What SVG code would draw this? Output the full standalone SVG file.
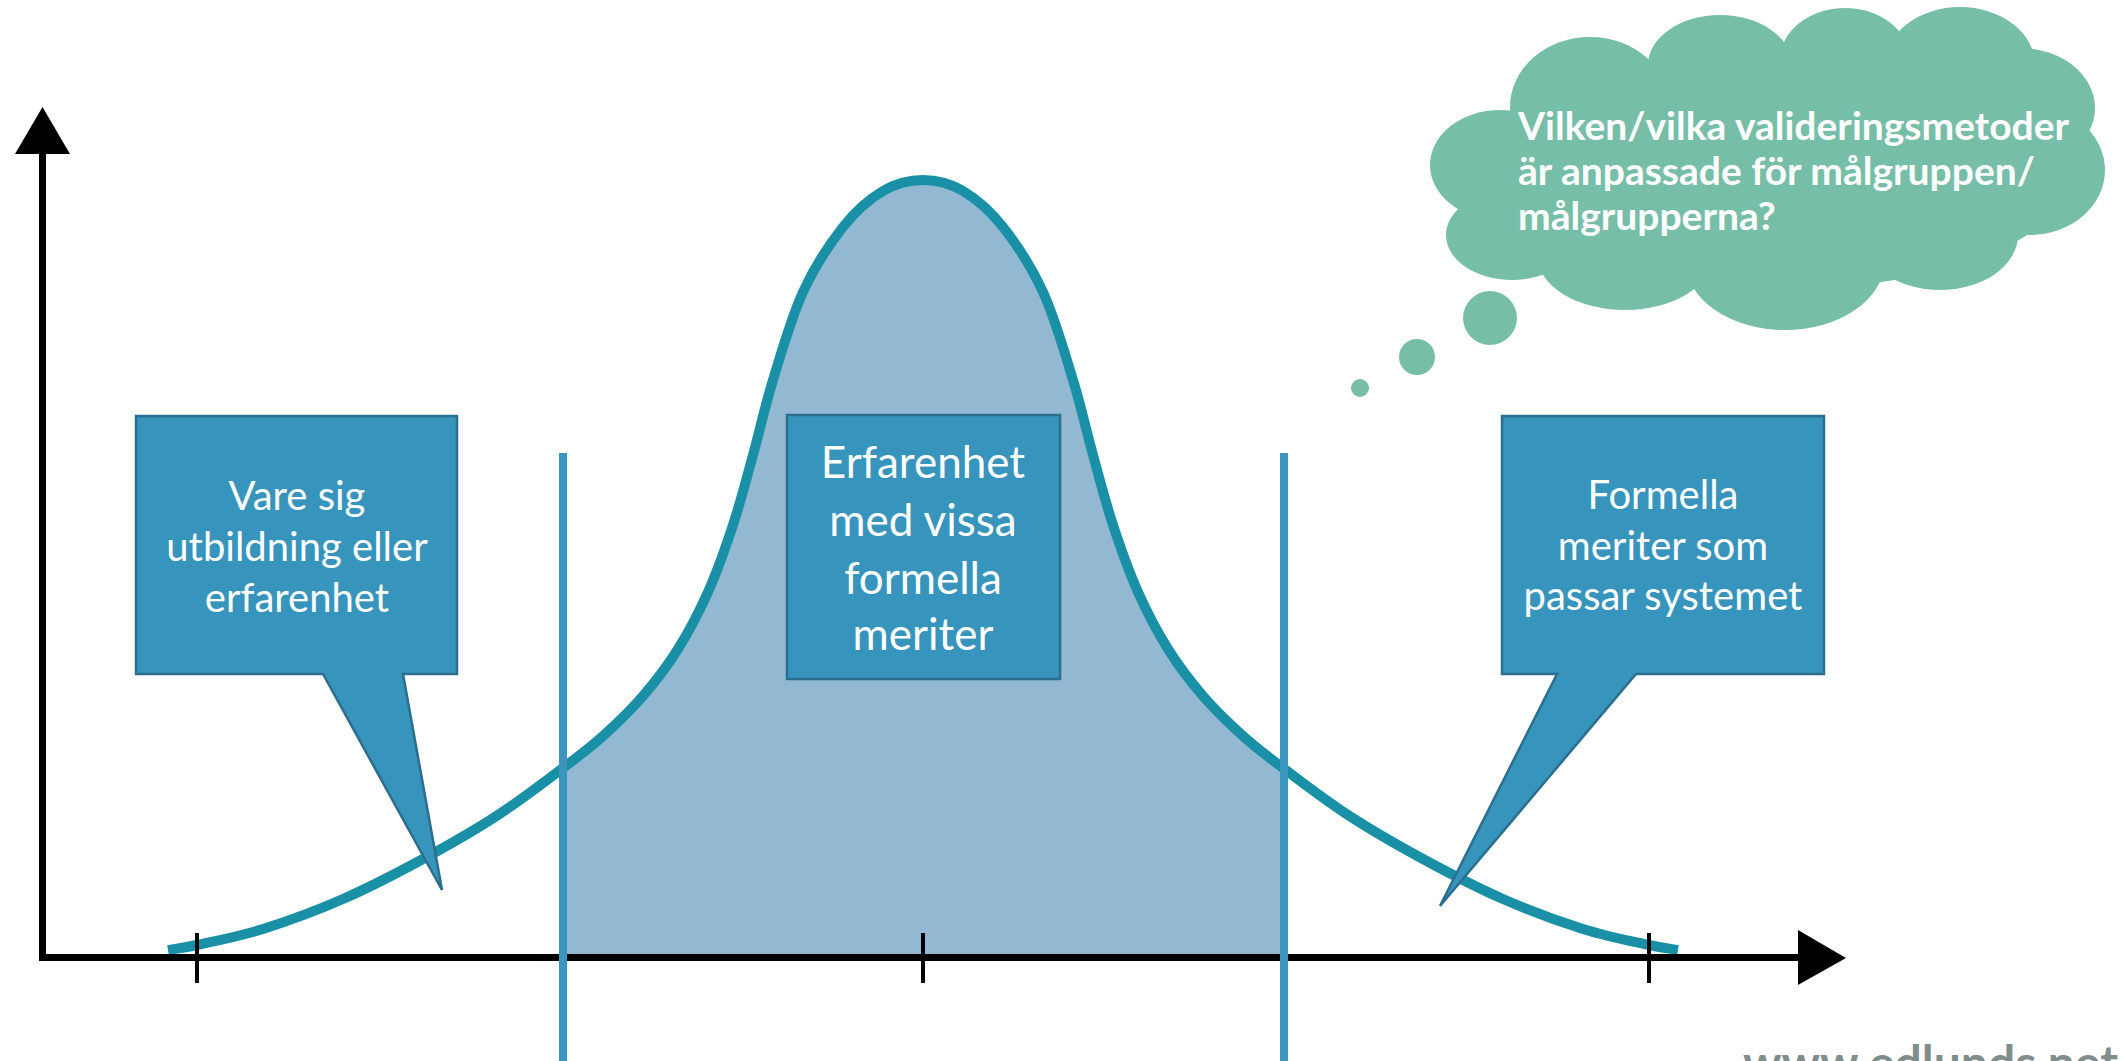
<svg xmlns="http://www.w3.org/2000/svg" width="2126" height="1061" viewBox="0 0 2126 1061">
<style>
.axis{fill:none;stroke:#000;stroke-width:7;stroke-linejoin:miter}
.tick{stroke:#000;stroke-width:4}
.vline{stroke:#3a96be;stroke-width:8}
.curve{fill:none;stroke:#1a90a7;stroke-width:10;stroke-linecap:butt;stroke-linejoin:round}
.area{fill:#92b8d2}
.box{fill:#3794bc;stroke:#2c6e8e;stroke-width:2.5;stroke-linejoin:miter}
.btxt{font-family:Lato,"Open Sans","Liberation Sans",sans-serif;fill:#fff;text-anchor:middle}
.cloud{fill:#77bea8}
.ctxt{font-family:Lato,"Open Sans","Liberation Sans",sans-serif;font-weight:bold;fill:#fff;font-size:39px}
.wm{font-family:Lato,"Liberation Sans",sans-serif;font-weight:bold;fill:#7f8d8d;font-size:48px;text-anchor:end}
</style>

<g id="area">
<path class="area" d="M563,768 C580.5,754.8 589.7,748 603,736 C616.3,724 630.5,710.5 643,696 C655.5,681.5 667.2,666.3 678,649 C688.8,631.7 698.8,612.7 708,592 C717.2,571.3 725.5,547.8 733,525 C740.5,502.2 746.3,479.2 753,455 C759.7,430.8 764.7,407.2 773,380 C781.3,352.8 791.3,317.5 803,292 C814.7,266.5 829.7,243.8 843,227 C856.3,210.2 869.7,198.8 883,191 C896.3,183.2 909.7,180 923,180 C936.3,180 949.7,183.2 963,191 C976.3,198.8 989.7,210.2 1003,227 C1016.3,243.8 1031.3,266.5 1043,292 C1054.7,317.5 1064.7,352.8 1073,380 C1081.3,407.2 1086.3,430.8 1093,455 C1099.7,479.2 1105.5,502.2 1113,525 C1120.5,547.8 1128.8,571.3 1138,592 C1147.2,612.7 1157.2,631.7 1168,649 C1178.8,666.3 1190.5,681.5 1203,696 C1215.5,710.5 1229.7,724 1243,736 C1256.3,748 1265.5,754.8 1283,768 L1283,957 L563,957 Z"/>
</g>

<g id="curve">
<path class="curve" d="M168,950 C172.8,949.2 181.2,948.5 197,945 C212.8,941.5 238.7,936.7 263,929 C287.3,921.3 316.3,910.7 343,899 C369.7,887.3 397.2,873 423,859 C448.8,845 474.7,830.2 498,815 C521.3,799.8 545.5,781.2 563,768 C580.5,754.8 589.7,748 603,736 C616.3,724 630.5,710.5 643,696 C655.5,681.5 667.2,666.3 678,649 C688.8,631.7 698.8,612.7 708,592 C717.2,571.3 725.5,547.8 733,525 C740.5,502.2 746.3,479.2 753,455 C759.7,430.8 764.7,407.2 773,380 C781.3,352.8 791.3,317.5 803,292 C814.7,266.5 829.7,243.8 843,227 C856.3,210.2 869.7,198.8 883,191 C896.3,183.2 909.7,180 923,180 C936.3,180 949.7,183.2 963,191 C976.3,198.8 989.7,210.2 1003,227 C1016.3,243.8 1031.3,266.5 1043,292 C1054.7,317.5 1064.7,352.8 1073,380 C1081.3,407.2 1086.3,430.8 1093,455 C1099.7,479.2 1105.5,502.2 1113,525 C1120.5,547.8 1128.8,571.3 1138,592 C1147.2,612.7 1157.2,631.7 1168,649 C1178.8,666.3 1190.5,681.5 1203,696 C1215.5,710.5 1229.7,724 1243,736 C1256.3,748 1265.5,754.8 1283,768 C1300.5,781.2 1324.7,799.8 1348,815 C1371.3,830.2 1397.2,845 1423,859 C1448.8,873 1476.3,887.3 1503,899 C1529.7,910.7 1558.7,921.3 1583,929 C1607.3,936.7 1633.2,941.5 1649,945 C1664.8,948.5 1673.2,949.2 1678,950"/>
</g>

<g id="axes">
<path class="axis" d="M42.5,152 L42.5,957.5 L1800,957.5"/>
<polygon points="42.5,107 15,154 70,154" fill="#000"/>
<polygon points="1798,930 1846,958 1798,985" fill="#000"/>
<line class="tick" x1="197" y1="933" x2="197" y2="983"/>
<line class="tick" x1="923" y1="933" x2="923" y2="983"/>
<line class="tick" x1="1649" y1="933" x2="1649" y2="983"/>
</g>

<g id="connectors">
<line class="vline" x1="563" y1="453" x2="563" y2="1061"/>
<line class="vline" x1="1284" y1="453" x2="1284" y2="1061"/>
</g>

<g id="box-left">
<path class="box" d="M136,416 H457 V674 H403 L442,890 L323,674 H136 Z"/>
<text class="btxt" font-size="40" x="297" y="510">Vare sig</text>
<text class="btxt" font-size="40" x="297" y="561">utbildning eller</text>
<text class="btxt" font-size="40" x="297" y="612">erfarenhet</text>
</g>

<g id="box-middle">
<rect class="box" x="787" y="415" width="273" height="264"/>
<text class="btxt" font-size="44" x="923" y="478">Erfarenhet</text>
<text class="btxt" font-size="44" x="923" y="536">med vissa</text>
<text class="btxt" font-size="44" x="923" y="594">formella</text>
<text class="btxt" font-size="44" x="923" y="650">meriter</text>
</g>

<g id="box-right">
<path class="box" d="M1502,416 H1824 V674 H1636 L1440,906 L1557,674 H1502 Z"/>
<text class="btxt" font-size="40" x="1663" y="509">Formella</text>
<text class="btxt" font-size="40" x="1663" y="560">meriter som</text>
<text class="btxt" font-size="40" x="1663" y="610">passar systemet</text>
</g>

<g id="cloud">
<ellipse class="cloud" cx="1775" cy="170" rx="300" ry="120"/>
<ellipse class="cloud" cx="1590" cy="107" rx="80" ry="70"/>
<ellipse class="cloud" cx="1500" cy="165" rx="70" ry="55"/>
<ellipse class="cloud" cx="1512" cy="235" rx="66" ry="45"/>
<ellipse class="cloud" cx="1625" cy="255" rx="88" ry="55"/>
<ellipse class="cloud" cx="1785" cy="260" rx="100" ry="70"/>
<ellipse class="cloud" cx="1940" cy="235" rx="78" ry="55"/>
<ellipse class="cloud" cx="2030" cy="170" rx="75" ry="65"/>
<ellipse class="cloud" cx="2020" cy="108" rx="75" ry="60"/>
<ellipse class="cloud" cx="1960" cy="65" rx="75" ry="58"/>
<ellipse class="cloud" cx="1845" cy="60" rx="65" ry="52"/>
<ellipse class="cloud" cx="1720" cy="65" rx="72" ry="50"/>
<circle class="cloud" cx="1490" cy="318" r="27"/>
<circle class="cloud" cx="1417" cy="357" r="18"/>
<circle class="cloud" cx="1360" cy="388" r="9"/>
<text class="ctxt" x="1518" y="140">Vilken/vilka valideringsmetoder</text>
<text class="ctxt" x="1518" y="185">är anpassade för målgruppen/</text>
<text class="ctxt" x="1518" y="230">målgrupperna?</text>
</g>

<g id="watermark">
<text class="wm" x="2118" y="1080">www.edlunds.net</text>
</g>
</svg>
